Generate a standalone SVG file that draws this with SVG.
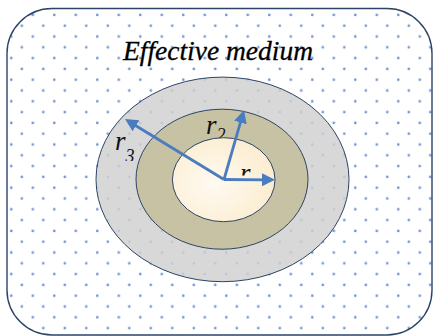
<svg xmlns="http://www.w3.org/2000/svg" width="433" height="336" viewBox="0 0 433 336">
<style>
.arrow{fill:none;stroke:#4a7cc0;stroke-width:2.8;marker-end:url(#ah)}
</style>
<defs>
<pattern id="dots" patternUnits="userSpaceOnUse" x="0.3" y="4.2" width="21.5" height="21.6">
<g fill="#5a88cc" fill-opacity="0.85">
<circle cx="11" cy="10.8" r="1.35"/>
<circle cx="0" cy="0" r="1.35"/>
<circle cx="21.5" cy="0" r="1.35"/>
<circle cx="0" cy="21.6" r="1.35"/>
<circle cx="21.5" cy="21.6" r="1.35"/>
</g>
</pattern>
<radialGradient id="cream" cx="0.4" cy="0.55" r="0.6">
<stop offset="0" stop-color="#fffaf1"/>
<stop offset="1" stop-color="#fbedd0"/>
</radialGradient>
<marker id="ah" markerUnits="userSpaceOnUse" markerWidth="13" markerHeight="13" refX="5" refY="6.5" orient="auto">
<path d="M0,0 L13,6.5 L0,13 z" fill="#4a7cc0"/>
</marker>
<clipPath id="c3"><rect x="100" y="120" width="60" height="41"/></clipPath>
<clipPath id="c1"><rect x="236" y="160" width="40" height="15.5"/></clipPath>
</defs>
<g id="medium">
<rect x="7" y="8.5" width="425" height="326.5" rx="45" ry="45" fill="#ffffff"/>
<rect x="7" y="8.5" width="425" height="326.5" rx="45" ry="45" fill="url(#dots)" stroke="#2c4466" stroke-width="1.4"/>
<text x="123" y="60" font-family="'Liberation Serif', serif" font-style="italic" font-size="28" fill="#000" stroke="#000" stroke-width="0.3" textLength="190" lengthAdjust="spacingAndGlyphs">Effective medium</text>
</g>
<g id="shell3">
<ellipse cx="222.5" cy="179.4" rx="126.5" ry="102.3" fill="#cfcfcf" fill-opacity="0.82" stroke="#2c4466" stroke-width="1"/>
</g>
<g id="shell2">
<ellipse cx="222" cy="179.2" rx="86" ry="70" fill="#c5bf9f" fill-opacity="0.93" stroke="#2c4466" stroke-width="1"/>
</g>
<g id="label-r2">
<text x="206" y="134" font-family="'Liberation Serif', serif" font-style="italic" font-size="27" fill="#111">r<tspan font-size="18" dy="7">2</tspan></text>
</g>
<g id="core">
<ellipse cx="223.7" cy="179.7" rx="51.3" ry="42" fill="url(#cream)" stroke="#2c4466" stroke-width="1"/>
</g>
<g id="label-r3" clip-path="url(#c3)">
<text x="115" y="150" font-family="'Liberation Serif', serif" font-style="italic" font-size="27" fill="#111">r<tspan font-size="18" dy="12">3</tspan></text>
</g>
<g id="label-r1" clip-path="url(#c1)">
<text x="240" y="182" font-family="'Liberation Serif', serif" font-style="italic" font-size="27" fill="#111">r<tspan font-size="18" dy="9">1</tspan></text>
</g>
<g id="connectors">
<path class="arrow" d="M224,179.5 L267,179.8"/>
<path class="arrow" d="M224,179.5 L241.8,117.7"/>
<path class="arrow" d="M224,179.5 L131.8,123.2"/>
</g>
</svg>
